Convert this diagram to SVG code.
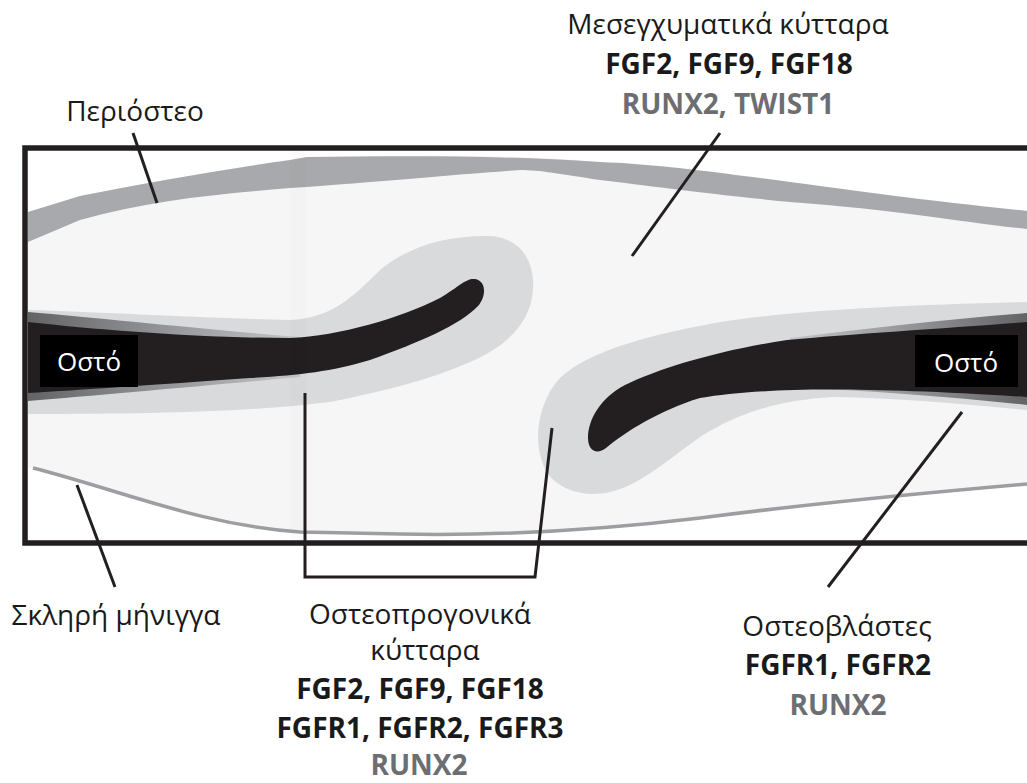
<svg xmlns="http://www.w3.org/2000/svg" width="1027" height="783" viewBox="0 0 1027 783">
  <defs>
    <style>
      .lbl { font-family: "Open Sans", "Liberation Sans", sans-serif; font-size: 28px; fill: #1a1a1a; text-anchor: middle; }
      .b { font-weight: bold; }
      .g { fill: #6d6e71; }
      .bone-lbl { font-family: "Open Sans", "Liberation Sans", sans-serif; font-size: 26px; fill: #ffffff; text-anchor: middle; }
      .conn { fill: none; stroke: #231f20; stroke-width: 3; stroke-linecap: butt; stroke-linejoin: miter; }
      .halo { fill: #d9dadb; }
      .bone { fill: #231f20; }
    </style>
    <linearGradient id="edgeL" x1="28" y1="0" x2="300" y2="0" gradientUnits="userSpaceOnUse">
      <stop offset="0" stop-color="#636466"/>
      <stop offset="0.5" stop-color="#939598"/>
      <stop offset="1" stop-color="#c4c5c8"/>
    </linearGradient>
    <linearGradient id="edgeR" x1="1027" y1="0" x2="790" y2="0" gradientUnits="userSpaceOnUse">
      <stop offset="0" stop-color="#636466"/>
      <stop offset="0.5" stop-color="#939598"/>
      <stop offset="1" stop-color="#c4c5c8"/>
    </linearGradient>
  </defs>

  <rect width="1027" height="783" fill="#ffffff"/>

  <!-- tissue section -->
  <g id="section">
    <rect x="25" y="148" width="1002" height="395" fill="#f6f6f6"/>
    <!-- space above the periosteum -->
    <path d="M25,150 L1027,150 L1027,211 C 960,204 900,197 790,182 C 700,170 650,164 600,162 C 540,157 500,155 400,156 L 307,157 L 290,160 C 220,170 150,182 80,196 L 28,212 Z" fill="#ffffff"/>
    <!-- periosteum -->
    <g id="periosteum">
      <path d="M28,212 L80,196 C 150,182 220,170 290,160 L 307,157 C 400,156 500,155 600,162 C 650,164 700,170 790,182 C 900,197 960,204 1027,211 L1027,229 C 960,222 900,210 790,202 C 700,193 650,186 600,180 C 560,174 540,170 520,170 C 450,175 400,180 307,187 L 290,188 C 220,194 150,200 80,220 L28,242 Z" fill="#a7a9ac"/>
    </g>
    <!-- space below the dura -->
    <path d="M28,468 L33,468 C 120,490 200,525 300,532 L 400,534 C 500,536 600,530 700,518 C 800,505 900,495 1027,484 L1027,541 L28,541 Z" fill="#ffffff"/>
    <!-- dura mater -->
    <path id="dura" d="M33,468 C 120,490 200,525 300,532 L 400,534 C 500,536 600,530 700,518 C 800,505 900,495 1027,484" fill="none" stroke="#9d9ea1" stroke-width="3.5"/>

    <!-- left bone front -->
    <g id="bone-left">
      <path class="halo" d="M28,310 C 100,312 200,318 290,320 C 330,318 350,300 380,270 C 410,245 450,235 490,236 C 520,238 535,260 533,290 C 531,320 510,345 470,362 C 430,380 380,392 330,402 C 250,412 150,414 28,414 Z"/>
      <path d="M28,312 C 100,318 200,329 300,337 L 300,377 C 200,386 100,395 28,401 Z" fill="url(#edgeL)"/>
      <path class="bone" d="M28,322 C 100,330 200,338 290,338 C 340,336 400,318 440,298 C 460,286 466,278 475,279 C 487,281 486,297 478,306 C 460,325 420,342 370,360 C 330,372 300,375 250,378 C 150,385 80,390 28,393 Z"/>
      <rect x="40" y="335" width="98" height="52" fill="#000000"/>
      <text class="bone-lbl" x="89" y="371">Οστό</text>
    </g>

    <!-- right bone front -->
    <g id="bone-right">
      <path class="halo" d="M1027,302 C 900,305 800,310 720,322 C 650,335 590,350 560,378 C 535,405 532,450 548,474 C 560,490 585,498 610,492 C 640,485 665,462 700,437 C 740,412 780,400 833,397 C 900,398 960,404 1027,410 Z"/>
      <path d="M1027,313 C 950,319 870,328 790,338 L 790,388 C 870,390 950,397 1027,405 Z" fill="url(#edgeR)"/>
      <path class="bone" d="M1027,322 C 950,328 850,334 787,340 C 720,350 660,368 625,385 C 600,398 588,420 588,438 C 588,451 597,455 606,448 C 625,432 660,410 700,398 C 760,388 850,386 1027,397 Z"/>
      <rect x="915" y="335" width="103" height="52" fill="#000000"/>
      <text class="bone-lbl" x="966" y="372">Οστό</text>
    </g>

    <!-- faint seam of the composite section -->
    <rect x="290" y="151" width="16" height="389" fill="#000000" opacity="0.012"/>

    <!-- frame -->
    <path d="M1027,148 L25,148 L25,543 L1027,543" fill="none" stroke="#231f20" stroke-width="5.5"/>
  </g>

  <!-- leader lines -->
  <g id="connectors">
    <line class="conn" x1="133" y1="133" x2="157" y2="203"/>
    <line class="conn" x1="720" y1="133" x2="632" y2="256"/>
    <line class="conn" x1="77" y1="485" x2="115" y2="587"/>
    <line class="conn" x1="962" y1="412" x2="828" y2="587"/>
    <polyline class="conn" points="305,393 305,577 535,577 552,428"/>
  </g>

  <!-- labels -->
  <g id="periosteum-label">
    <text class="lbl" x="135" y="121">Περιόστεο</text>
  </g>
  <g id="mesenchymal-label">
    <text class="lbl" x="728" y="34">Μεσεγχυματικά κύτταρα</text>
    <text class="lbl b" x="729" y="74">FGF2, FGF9, FGF18</text>
    <text class="lbl b g" x="728" y="114">RUNX2, TWIST1</text>
  </g>
  <g id="dura-label">
    <text class="lbl" x="116" y="625">Σκληρή μήνιγγα</text>
  </g>
  <g id="osteoprogenitor-label">
    <text class="lbl" x="420" y="624">Οστεοπρογονικά</text>
    <text class="lbl" x="425" y="660">κύτταρα</text>
    <text class="lbl b" x="420" y="699">FGF2, FGF9, FGF18</text>
    <text class="lbl b" x="420" y="738">FGFR1, FGFR2, FGFR3</text>
    <text class="lbl b g" x="419" y="775">RUNX2</text>
  </g>
  <g id="osteoblast-label">
    <text class="lbl" x="837" y="636">Οστεοβλάστες</text>
    <text class="lbl b" x="838" y="675">FGFR1, FGFR2</text>
    <text class="lbl b g" x="838" y="715">RUNX2</text>
  </g>
</svg>
